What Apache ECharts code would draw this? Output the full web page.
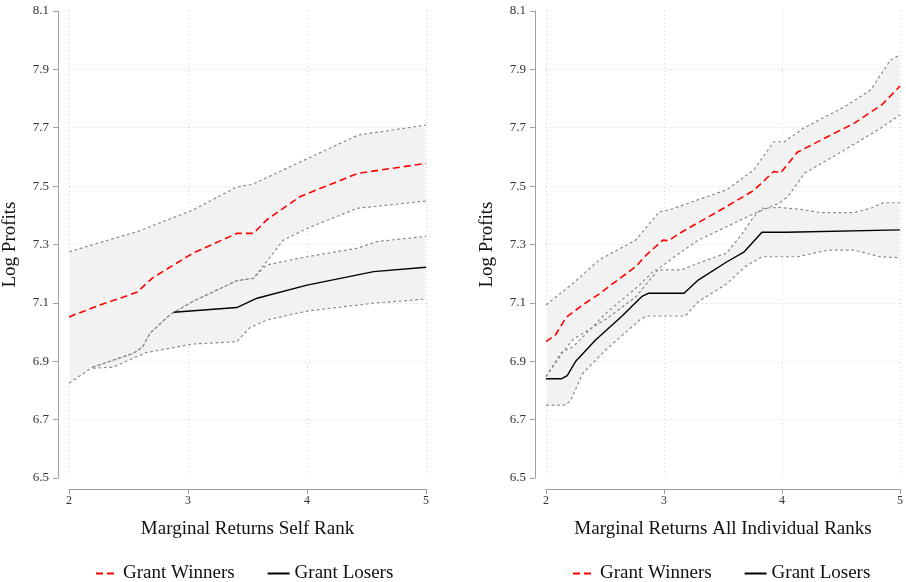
<!DOCTYPE html>
<html><head><meta charset="utf-8">
<script src="https://cdn.jsdelivr.net/npm/echarts@6/dist/echarts.min.js"></script>
<style>html,body{margin:0;padding:0;background:#fff}#c{width:906px;height:582px}</style>
</head><body><div id="c"></div>
<script>
// ---- tick values ----
const xTicks = [2, 3, 4, 5];
const yTicks = [6.5, 6.7, 6.9, 7.1, 7.3, 7.5, 7.7, 7.9, 8.1];
const panelTitles = ['Marginal Returns Self Rank', 'Marginal Returns All Individual Ranks'];
const yTitle = 'Log Profits';
const seriesNames = ['Grant Winners', 'Grant Losers'];

// ---- Left panel: Self Rank ----
const selfWinX = [2, 2.26, 2.57, 2.7, 3.04, 3.41, 3.55, 3.66, 3.94, 4.43, 5];
const selfWin  = [7.052, 7.093, 7.136, 7.185, 7.27, 7.338, 7.338, 7.384, 7.464, 7.544, 7.578];
const selfWinHiX = [2, 2.58, 3.04, 3.41, 3.54, 4.43, 5];
const selfWinHi  = [7.275, 7.345, 7.418, 7.497, 7.506, 7.675, 7.709];
const selfWinLoX = [2, 2.2, 2.54, 2.62, 2.68, 2.85, 3.04, 3.41, 3.55, 3.65, 3.8, 4.0, 4.42, 5];
const selfWinLo  = [6.825, 6.88, 6.927, 6.95, 6.996, 7.06, 7.105, 7.176, 7.184, 7.236, 7.315, 7.355, 7.424, 7.449];
const selfLosX = [2.88, 3.41, 3.58, 4.0, 4.56, 5];
const selfLos  = [7.068, 7.084, 7.116, 7.161, 7.207, 7.222];
const selfLosHiX = [2.2, 2.54, 2.62, 2.68, 2.85, 3.04, 3.41, 3.55, 3.66, 4.0, 4.42, 4.59, 5];
const selfLosHi  = [6.88, 6.927, 6.95, 6.996, 7.06, 7.105, 7.176, 7.184, 7.23, 7.258, 7.287, 7.31, 7.328];
const selfLosLoX = [2.2, 2.37, 2.65, 3.04, 3.41, 3.52, 3.66, 4.0, 4.56, 5];
const selfLosLo  = [6.876, 6.88, 6.93, 6.959, 6.967, 7.015, 7.041, 7.072, 7.099, 7.113];

// ---- Right panel: All Individual Ranks ----
const allWinX = [2, 2.08, 2.17, 2.31, 2.45, 2.53, 2.76, 2.85, 2.99, 3.04, 3.13, 3.53, 3.76, 3.93, 3.99, 4.13, 4.39, 4.61, 4.85, 5];
const allWin  = [6.967, 6.99, 7.05, 7.093, 7.13, 7.155, 7.224, 7.264, 7.315, 7.313, 7.338, 7.43, 7.485, 7.55, 7.546, 7.616, 7.67, 7.715, 7.78, 7.843];
const allWinHiX = [2, 2.23, 2.45, 2.76, 2.96, 3.04, 3.53, 3.76, 3.93, 4.02, 4.18, 4.53, 4.75, 4.92, 5];
const allWinHi  = [7.093, 7.167, 7.247, 7.315, 7.412, 7.418, 7.487, 7.555, 7.652, 7.652, 7.698, 7.772, 7.829, 7.932, 7.949];
const allWinLoX = [2, 2.14, 2.23, 2.51, 2.76, 2.96, 3.13, 3.29, 3.53, 3.77, 3.97, 4.05, 4.19, 4.53, 4.81, 5];
const allWinLo  = [6.847, 6.93, 6.975, 7.045, 7.12, 7.219, 7.27, 7.315, 7.361, 7.407, 7.441, 7.464, 7.544, 7.624, 7.692, 7.744];
const allLosX = [2, 2.13, 2.18, 2.25, 2.42, 2.64, 2.81, 2.87, 3.17, 3.29, 3.53, 3.68, 3.83, 4.04, 5];
const allLos  = [6.84, 6.84, 6.851, 6.899, 6.973, 7.053, 7.121, 7.133, 7.133, 7.178, 7.24, 7.275, 7.342, 7.342, 7.35];
const allLosHiX = [2, 2.13, 2.23, 2.51, 2.79, 2.92, 3.15, 3.29, 3.53, 3.65, 3.76, 3.83, 3.97, 4.16, 4.33, 4.61, 4.75, 4.86, 5];
const allLosHi  = [6.847, 6.93, 6.95, 7.065, 7.16, 7.213, 7.213, 7.236, 7.27, 7.33, 7.395, 7.424, 7.427, 7.42, 7.409, 7.409, 7.424, 7.443, 7.443];
const allLosLoX = [2, 2.17, 2.21, 2.31, 2.5, 2.81, 2.87, 3.18, 3.29, 3.53, 3.69, 3.83, 4.13, 4.39, 4.61, 4.83, 5];
const allLosLo  = [6.75, 6.75, 6.767, 6.858, 6.937, 7.047, 7.055, 7.055, 7.104, 7.165, 7.225, 7.258, 7.258, 7.281, 7.281, 7.258, 7.255];

// ---- build ----
const FONT = "'Liberation Serif', 'DejaVu Serif', serif";
const pairs = (xs, ys) => xs.map((x, i) => [x, ys[i]]);

function band(g, hiX, hi, loX, lo) {
  return {
    type: 'custom', xAxisIndex: g, yAxisIndex: g, silent: true, clip: true, z: 1,
    data: [[hiX[0], hi[0]]],
    renderItem: (params, api) => {
      const pts = [];
      for (let i = 0; i < hiX.length; i++) pts.push(api.coord([hiX[i], hi[i]]));
      for (let i = loX.length - 1; i >= 0; i--) pts.push(api.coord([loX[i], lo[i]]));
      return { type: 'polygon', shape: { points: pts },
        style: { fill: '#f2f2f2', stroke: '#ffffff', lineWidth: 1.5 } };
    }
  };
}
function bound(g, xs, ys) {
  return { type: 'line', xAxisIndex: g, yAxisIndex: g, data: pairs(xs, ys),
    symbol: 'none', showSymbol: false, silent: true, z: 3,
    lineStyle: { color: '#8c8c8c', width: 1.2, type: [3, 2.5] } };
}
function winLine(g, xs, ys) {
  return { name: seriesNames[0], type: 'line', xAxisIndex: g, yAxisIndex: g, data: pairs(xs, ys),
    symbol: 'none', showSymbol: false, silent: true, z: 5,
    itemStyle: { color: '#ff0000' },
    lineStyle: { color: '#ff0000', width: 1.6, type: [7, 4] } };
}
function losLine(g, xs, ys) {
  return { name: seriesNames[1], type: 'line', xAxisIndex: g, yAxisIndex: g, data: pairs(xs, ys),
    symbol: 'none', showSymbol: false, silent: true, z: 5,
    itemStyle: { color: '#000000' },
    lineStyle: { color: '#000000', width: 1.4, type: 'solid' } };
}

const axisGray = '#a0a0a0';
function xAx(g) {
  return { type: 'value', gridIndex: g, min: xTicks[0], max: xTicks[xTicks.length - 1], interval: 1,
    offset: 11,
    axisLine: { show: true, onZero: false, lineStyle: { color: axisGray, width: 1 } },
    axisTick: { show: true, length: 5, lineStyle: { color: axisGray } },
    axisLabel: { color: '#333', fontFamily: FONT, fontSize: 12, margin: 6 },
    splitLine: { show: true, lineStyle: { color: '#d4d4d4', type: [1, 3] } },
    name: panelTitles[g], nameLocation: 'middle', nameGap: 31,
    nameTextStyle: { color: '#111', fontFamily: FONT, fontSize: 19 } };
}
function yAx(g) {
  return { type: 'value', gridIndex: g, min: yTicks[0], max: yTicks[yTicks.length - 1], interval: 0.2,
    offset: 11,
    axisLine: { show: true, onZero: false, lineStyle: { color: axisGray, width: 1 } },
    axisTick: { show: true, length: 5, lineStyle: { color: axisGray } },
    axisLabel: { color: '#333', fontFamily: FONT, fontSize: 13, margin: 9,
      formatter: v => v.toFixed(1) },
    splitLine: { show: true, showMinLine: false, showMaxLine: false,
      lineStyle: { color: '#d4d4d4', type: [1, 3] } },
    name: yTitle, nameLocation: 'middle', nameGap: 38,
    nameTextStyle: { color: '#111', fontFamily: FONT, fontSize: 19 } };
}

const legendCommon = {
  data: seriesNames, selectedMode: false, top: 559, itemWidth: 22, itemHeight: 10, itemGap: 32,
  itemStyle: { opacity: 0 },
  textStyle: { color: '#111', fontFamily: FONT, fontSize: 19 }
};

const option = {
  animation: false,
  backgroundColor: '#ffffff',
  grid: [
    { left: 69, width: 357, top: 11, height: 467, containLabel: false },
    { left: 546, width: 357, top: 11, height: 467, containLabel: false }
  ],
  xAxis: [xAx(0), xAx(1)],
  yAxis: [yAx(0), yAx(1)],
  legend: [
    Object.assign({}, legendCommon, { left: 90 }),
    Object.assign({}, legendCommon, { left: 567 })
  ],
  series: [
    band(0, selfWinHiX, selfWinHi, selfWinLoX, selfWinLo),
    band(0, selfLosHiX, selfLosHi, selfLosLoX, selfLosLo),
    bound(0, selfWinHiX, selfWinHi), bound(0, selfWinLoX, selfWinLo),
    bound(0, selfLosHiX, selfLosHi), bound(0, selfLosLoX, selfLosLo),
    winLine(0, selfWinX, selfWin), losLine(0, selfLosX, selfLos),
    band(1, allWinHiX, allWinHi, allWinLoX, allWinLo),
    band(1, allLosHiX, allLosHi, allLosLoX, allLosLo),
    bound(1, allWinHiX, allWinHi), bound(1, allWinLoX, allWinLo),
    bound(1, allLosHiX, allLosHi), bound(1, allLosLoX, allLosLo),
    winLine(1, allWinX, allWin), losLine(1, allLosX, allLos)
  ]
};
const chart = echarts.init(document.getElementById('c'), null, { renderer: 'canvas' });
chart.setOption(option);
</script>
</body></html>
